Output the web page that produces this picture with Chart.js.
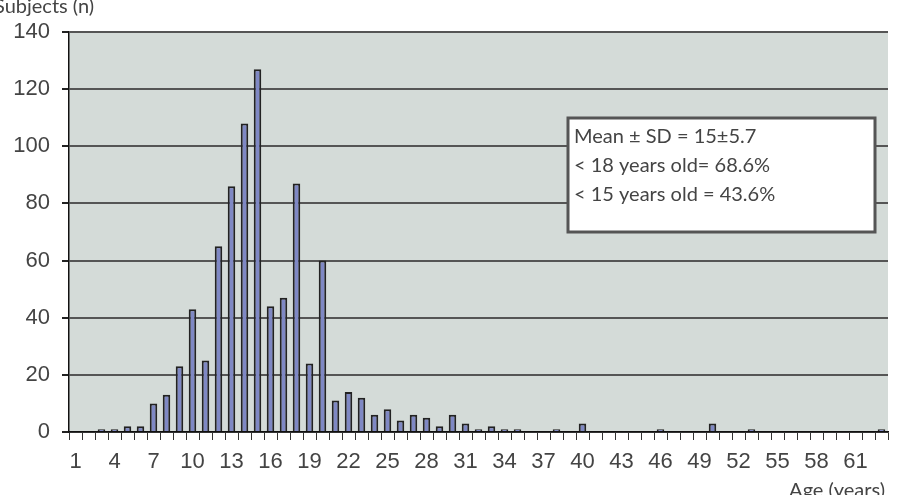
<!DOCTYPE html>
<html>
<head>
<meta charset="utf-8">
<script src="https://cdn.jsdelivr.net/npm/chart.js@4"></script>
<style>
  html, body { margin: 0; padding: 0; background: #fff; }
  #wrap { position: relative; width: 897px; height: 495px; }
</style>
</head>
<body>
<div id="wrap"><canvas id="ageChart" width="897" height="495"></canvas></div>
<script>
// age categories (years)
const ages = [1, 2, 3, 4, 5, 6, 7, 8, 9, 10, 11, 12, 13, 14, 15, 16, 17, 18, 19, 20,
  21, 22, 23, 24, 25, 26, 27, 28, 29, 30, 31, 32, 33, 34, 35, 36, 37, 38, 39, 40,
  41, 42, 43, 44, 45, 46, 47, 48, 49, 50, 51, 52, 53, 54, 55, 56, 57, 58, 59, 60,
  61, 62, 63];

// number of subjects per age
const subjects = [0, 0, 1, 1, 2, 2, 10, 13, 23, 43, 25, 65, 86, 108, 127, 44, 47, 87, 24, 60,
  11, 14, 12, 6, 8, 4, 6, 5, 2, 6, 3, 1, 2, 1, 1, 0, 0, 1, 0, 3,
  0, 0, 0, 0, 0, 1, 0, 0, 0, 3, 0, 0, 1, 0, 0, 0, 0, 0, 0, 0,
  0, 0, 1];

const xTickLabels = [1, 4, 7, 10, 13, 16, 19, 22, 25, 28, 31, 34, 37, 40, 43, 46, 49, 52, 55, 58, 61];
const yTicks = [0, 20, 40, 60, 80, 100, 120, 140];

const statLines = [
  "Mean \u00b1 SD = 15\u00b15.7",
  "< 18 years old= 68.6%",
  "< 15 years old = 43.6%"
];

const tickFont = { family: "'Liberation Sans', Arial, sans-serif", size: 22 };
const textFont = "20px Lato, 'Open Sans', sans-serif";

const extras = {
  id: "extras",
  beforeDraw(chart) {
    const a = chart.chartArea;
    const c = chart.ctx;
    c.save();
    c.fillStyle = "#d4dbd8";
    c.fillRect(a.left, a.top, a.right - a.left, a.bottom - a.top);
    c.restore();
  },
  afterDraw(chart) {
    const c = chart.ctx;
    c.save();
    // stats box
    c.fillStyle = "#ffffff";
    c.fillRect(568, 118, 307, 114);
    c.strokeStyle = "#555";
    c.lineWidth = 3;
    c.strokeRect(568, 118, 307, 114);
    c.fillStyle = "#444";
    c.font = textFont;
    c.textBaseline = "alphabetic";
    statLines.forEach((t, i) => c.fillText(t, 574, 143 + i * 29));

    // axis titles
    c.fillText("Subjects (n)", -6, 13);
    c.textAlign = "right";
    c.fillText("Age (years)", 885, 497);
    c.restore();
  }
};

new Chart(document.getElementById("ageChart"), {
  type: "bar",
  data: {
    labels: ages,
    datasets: [{
      data: subjects,
      backgroundColor: "#7f88c4",
      borderColor: "#222",
      borderWidth: 2,
      barPercentage: 0.58,
      categoryPercentage: 1
    }]
  },
  options: {
    responsive: false,
    animation: false,
    layout: { padding: { left: 0, right: 9, top: 32, bottom: 0 } },
    plugins: { legend: { display: false }, tooltip: { enabled: false } },
    scales: {
      x: {
        grid: { drawOnChartArea: false, drawTicks: true, tickLength: 8, color: "#333", lineWidth: 1 },
        border: { color: "#111", width: 1.5 },
        ticks: {
          autoSkip: false,
          maxRotation: 0,
          padding: 9,
          color: "#444",
          font: tickFont,
          callback: function (v, i) {
            const lab = ages[i];
            return xTickLabels.includes(lab) ? String(lab) : "";
          }
        },
        afterFit(scale) { scale.height = 63; }
      },
      y: {
        min: 0,
        max: 140,
        grid: { color: "#555", lineWidth: 2, tickLength: 7, tickColor: "#222" },
        border: { color: "#111", width: 1.5 },
        afterBuildTicks(scale) { scale.ticks = yTicks.map(v => ({ value: v })); },
        ticks: { padding: 12, color: "#444", font: tickFont },
        afterFit(scale) { scale.width = 69; }
      }
    }
  },
  plugins: [extras]
});
</script>
</body>
</html>
